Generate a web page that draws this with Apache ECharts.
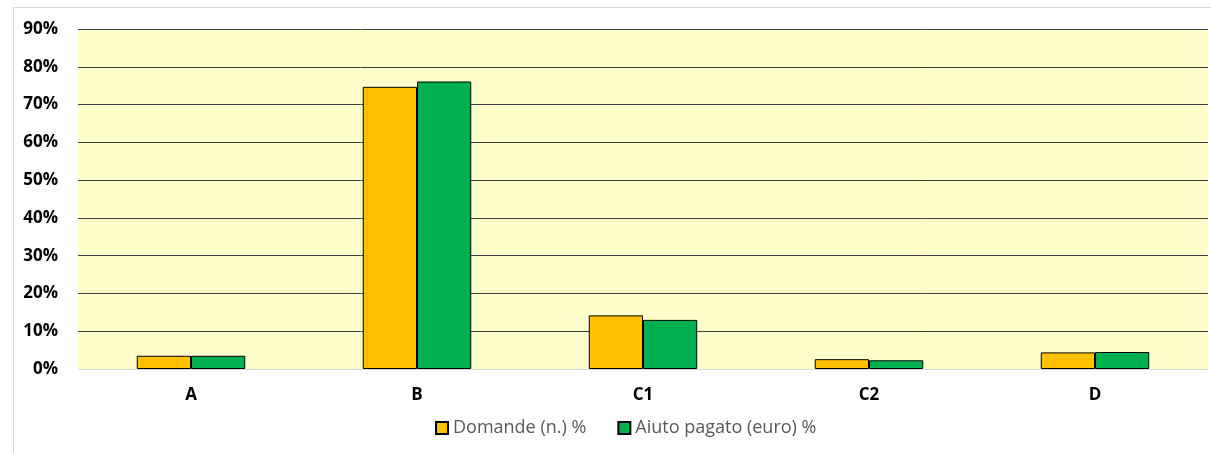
<!DOCTYPE html>
<html>
<head>
<meta charset="utf-8">
<script src="https://cdn.jsdelivr.net/npm/echarts@6/dist/echarts.min.js"></script>
<style>
    html, body { margin: 0; padding: 0; background: #fff; }
    #frame {
        position: absolute; left: 13px; top: 7px; width: 1220px; height: 460px;
        border: 1px solid #d9d9d9; box-sizing: border-box;
    }
    #chart { position: absolute; left: 0; top: 0; width: 1211px; height: 453px; }
</style>
</head>
<body>
<div id="frame"></div>
<div id="chart"></div>
<script>
// Data
const categories = ['A', 'B', 'C1', 'C2', 'D'];
const domande = [3.5, 74.7, 14.2, 2.6, 4.4];
const aiuto = [3.5, 76.1, 13.0, 2.3, 4.5];
const seriesNames = ['Domande (n.) %', 'Aiuto pagato (euro) %'];

const myChart = echarts.init(document.getElementById('chart'));

const option = {
    animation: false,
    grid: {
        left: 78,
        right: 3,
        top: 29,
        bottom: 84,
        show: true,
        backgroundColor: '#FFFFCC',
        borderWidth: 0
    },
    legend: {
        top: 414,
        left: 430,
        itemWidth: 12,
        itemHeight: 12,
        itemGap: 31,
        icon: 'rect',
        textStyle: {
            color: '#595959',
            fontSize: 18,
            fontFamily: 'Open Sans'
        },
        data: seriesNames
    },
    xAxis: {
        type: 'category',
        data: categories,
        axisLine: { lineStyle: { color: '#d9d9d9', width: 1 } },
        axisTick: { show: false },
        axisLabel: {
            color: '#000',
            fontWeight: 'bold',
            fontSize: 17,
            fontFamily: 'Open Sans',
            margin: 18
        }
    },
    yAxis: {
        type: 'value',
        min: 0,
        max: 90,
        interval: 10,
        axisLine: { show: false },
        axisTick: { show: false },
        axisLabel: {
            formatter: '{value}%',
            color: '#000',
            fontWeight: 'bold',
            fontSize: 17,
            fontFamily: 'Open Sans',
            margin: 20
        },
        splitLine: { lineStyle: { color: '#3f3f3f', width: 1 } }
    },
    series: [
        {
            name: seriesNames[0],
            type: 'bar',
            data: domande,
            barGap: '0%',
            barCategoryGap: '52%',
            itemStyle: { color: '#FFC000', borderColor: '#000', borderWidth: 1 }
        },
        {
            name: seriesNames[1],
            type: 'bar',
            data: aiuto,
            itemStyle: { color: '#00B050', borderColor: '#000', borderWidth: 1 }
        }
    ]
};

myChart.setOption(option);
</script>
</body>
</html>
